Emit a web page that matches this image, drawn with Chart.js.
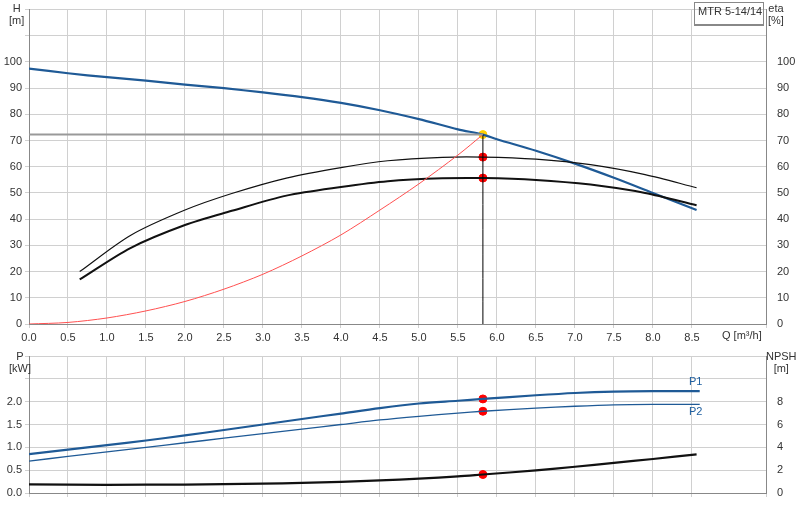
<!DOCTYPE html>
<html><head><meta charset="utf-8">
<script src="https://cdn.jsdelivr.net/npm/chart.js@4"></script>
<style>
body{margin:0;background:#fff;font-family:"Liberation Sans",Arial,sans-serif;}
.t{position:absolute;font-size:11px;color:#333;line-height:12px;}
canvas{position:absolute;left:0;}
</style></head><body>
<canvas id="top" style="top:0px" width="800" height="345"></canvas>
<canvas id="bot" style="top:345px" width="800" height="175"></canvas>
<div class="t" style="left:9px;top:2px;text-align:center">H<br>[m]</div>
<div class="t" style="left:768px;top:2px;text-align:center">eta<br>[%]</div>
<div class="t" style="left:694px;top:2px;width:70px;height:24px;border:1px solid #888;border-bottom:2px solid #888;line-height:16px;padding-left:3px;box-sizing:border-box">MTR 5-14/14</div>
<div class="t" style="left:722px;top:329px">Q [m³/h]</div>
<div class="t" style="left:9px;top:350px;text-align:center">P<br>[kW]</div>
<div class="t" style="left:766px;top:350px;text-align:center">NPSH<br>[m]</div>
<div class="t" style="left:689px;top:375px;color:#1f5fa0">P1</div>
<div class="t" style="left:689px;top:405px;color:#1f5fa0">P2</div>
<script>
const dutyQ = 5.82, dutyH = 72.3, dutyEta1 = 63.7, dutyEta2 = 55.7;
const hQ = [0,0.5,1,1.5,2,2.5,3,3.5,4,4.5,5,5.5,5.82,6,6.5,7,7.5,8,8.56];
const hVal = [97.5,95.7,94.2,92.9,91.4,90,88.4,86.6,84.4,81.6,78.2,74.3,72.3,70.5,66.1,61.2,55.8,50,43.5];
const etaQ = [0.65,1.3,2,2.6,3.3,4,4.6,5.3,5.82,6.5,7.2,7.9,8.56];
const eta1 = [20,33.8,43.5,49.8,55.7,59.7,62.3,63.6,63.7,62.9,60.8,57,52];
const eta2 = [17,29,37.8,43.2,49,52.3,54.5,55.6,55.7,55,53.2,50,45.3];
const sysQ = [0,0.5,1,1.5,2,2.5,3,3.5,4,4.5,5,5.5,5.82];
const sysH = [0,0.6,2.3,5,8.6,13.3,19,26,34,43.5,53.5,64.5,72.3];
const pQ = [0,0.5,1,1.5,2,2.5,3,3.5,4,4.5,5,5.5,5.82,6.5,7,7.5,8,8.6];
const p1 = [0.85,0.95,1.05,1.15,1.26,1.38,1.5,1.62,1.74,1.86,1.96,2.02,2.06,2.14,2.19,2.22,2.23,2.23];
const p2 = [0.7,0.8,0.9,1.0,1.1,1.2,1.3,1.4,1.5,1.6,1.68,1.75,1.79,1.86,1.9,1.93,1.94,1.94];
const nQ = [0,1,2,2.5,3,3.5,4,4.5,5,5.5,5.82,6.5,7,7.5,8,8.56];
const npsh = [0.75,0.72,0.74,0.78,0.82,0.88,0.98,1.1,1.26,1.45,1.62,1.98,2.3,2.64,2.98,3.38];
const dutyP1 = 2.06, dutyP2 = 1.79, dutyNpsh = 1.62;

const xy = (xs, ys) => xs.map((x, i) => ({x, y: ys[i]}));
const line = (data, color, w, axis) => ({type: "line", data, borderColor: color, borderWidth: w,
  pointRadius: 0, tension: 0.3, fill: false, yAxisID: axis || "y"});
const dot = (x, y, color, axis) => ({type: "scatter", data: [{x, y}], backgroundColor: color,
  borderColor: color, pointRadius: 4, yAxisID: axis || "y"});
const tickFont = {family: "Liberation Sans", size: 11};
const grid = {color: "#d0d0d0", drawTicks: true, tickLength: 4};
const xScale = (show) => ({type: "linear", min: 0, max: 9.45, afterFit: s => { s.height = show ? 21 : 0; },
  ticks: {display: show, stepSize: 0.5, color: "#333", font: tickFont, maxRotation: 0, autoSkip: false,
    callback: v => v > 8.6 ? "" : v.toFixed(1)}, grid, border: {color: "#888"}});

new Chart(document.getElementById("top"), {
  data: {datasets: [
    line([{x: 0, y: dutyH}, {x: dutyQ, y: dutyH}], "#999", 2),
    line([{x: dutyQ, y: 0}, {x: dutyQ, y: dutyH}], "#000", 1),
    line(xy(sysQ, sysH), "#ff5050", 1),
    line(xy(etaQ, eta1), "#111", 1.2, "y2"),
    line(xy(etaQ, eta2), "#111", 2, "y2"),
    line(xy(hQ, hVal), "#1f5a96", 2.2),
    dot(dutyQ, dutyEta1, "#f00", "y2"), dot(dutyQ, dutyEta2, "#f00", "y2"),
    dot(dutyQ, dutyH, "#ffd000")
  ]},
  options: {responsive: false, animation: false, layout: {padding: {top: 0, bottom: 0}},
    plugins: {legend: {display: false}, tooltip: {enabled: false}},
    scales: {
      x: xScale(true),
      y: {min: 0, max: 120, afterFit: s => { s.width = 29; }, border: {color: "#888"}, grid,
        ticks: {stepSize: 10, color: "#333", font: tickFont, callback: v => v > 100 ? "" : v}},
      y2: {position: "right", min: 0, max: 120, afterFit: s => { s.width = 34; }, grid: {display: false},
        border: {color: "#888"}, ticks: {stepSize: 10, color: "#333", font: tickFont, callback: v => v > 100 ? "" : v}}
    }}
});

new Chart(document.getElementById("bot"), {
  data: {datasets: [
    line(xy(pQ, p1), "#1f5a96", 2.2),
    line(xy(pQ, p2), "#1f5a96", 1.3),
    line(xy(nQ, npsh), "#111", 2.2, "y2"),
    dot(dutyQ, dutyP1, "#f00"), dot(dutyQ, dutyP2, "#f00"), dot(dutyQ, dutyNpsh, "#f00", "y2")
  ]},
  options: {responsive: false, animation: false, layout: {padding: {top: 11, bottom: 27}},
    plugins: {legend: {display: false}, tooltip: {enabled: false}},
    scales: {
      x: xScale(false),
      y: {min: 0, max: 3, afterFit: s => { s.width = 29; }, border: {color: "#888"}, grid,
        ticks: {stepSize: 0.5, color: "#333", font: tickFont, callback: v => v > 2.1 ? "" : v.toFixed(1)}},
      y2: {position: "right", min: 0, max: 12, afterFit: s => { s.width = 34; }, grid: {display: false},
        border: {color: "#888"}, ticks: {stepSize: 2, color: "#333", font: tickFont, callback: v => v > 8 ? "" : v}}
    }}
});
</script></body></html>
